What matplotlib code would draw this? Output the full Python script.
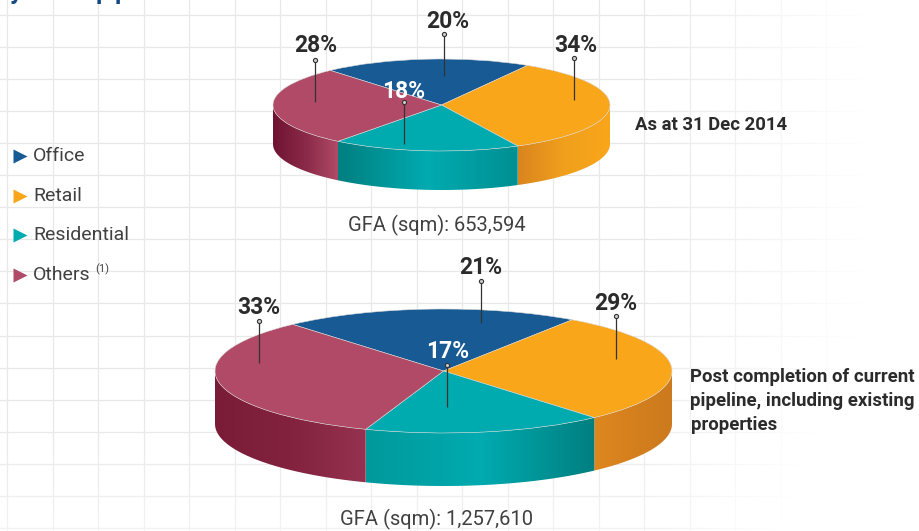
import numpy as np
import matplotlib
matplotlib.use('Agg')
import matplotlib.pyplot as plt
from matplotlib.patches import Polygon
from matplotlib.colors import LinearSegmentedColormap

plt.rcParams['font.family'] = ['Roboto', 'Liberation Sans', 'DejaVu Sans']

categories = ['Office', 'Retail', 'Residential', 'Others']
colors = ['#175a94', '#faa61a', '#00abb0', '#b04a66']
top_values = [20, 34, 18, 28]
bottom_values = [21, 29, 17, 33]
top_gfa = 'GFA (sqm): 653,594'
bottom_gfa = 'GFA (sqm): 1,257,610'
top_note = 'As at 31 Dec 2014'
bottom_note = 'Post completion of current\npipeline, including existing\nproperties'

W, H = 919, 531

# side wall shading, left to right, per slice
top_walls = {1: ['#d9851f', '#f0a01c', '#faa61a'],
             2: ['#007f80', '#00abb0', '#008f92'],
             3: ['#6f1232', '#8a2a48', '#b04a66']}
bottom_walls = {1: ['#dd871f', '#d5801e', '#cc7a1e'],
                2: ['#00999b', '#00abb0', '#007f80'],
                3: ['#7a1c38', '#82223e', '#953250']}

fig = plt.figure(figsize=(W / 100, H / 100), dpi=100)

# background grid
bg = fig.add_axes([0, 0, 1, 1], zorder=0)
bg.set_xlim(0, W)
bg.set_ylim(H, 0)
bg.axis('off')
for x in np.arange(7, 880, 45.5):
    bg.axvline(x, color='#e8e8e8', lw=0.9)
for y in np.arange(15, 531, 32.05):
    bg.axhline(y, color='#e8e8e8', lw=0.9)
# grid fades out to the right and bottom
xx, yy = np.meshgrid(np.arange(W), np.arange(H))
fade = np.clip((xx - (640 - np.clip(yy - 300, 0, None) * 0.4)) / 230, 0, 1)
fade = np.maximum(fade, np.clip((yy - 420) / 110, 0, 1) * 0.45)
rgba = np.ones((H, W, 4))
rgba[..., 3] = fade
bg.imshow(rgba, extent=[0, W, H, 0], aspect='auto', zorder=2)
bg.set_xlim(0, W)
bg.set_ylim(H, 0)


def draw_pie(values, walls, startangle, cx, cy, rx, ry, depth, z):
    d = depth / ry
    m = 1.02
    left = cx - rx * m
    right = cx + rx * m
    top = cy - ry * m
    bottom = cy + ry + depth + ry * (m - 1)
    ax = fig.add_axes([left / W, 1 - bottom / H, (right - left) / W, (bottom - top) / H], zorder=z)
    ax.patch.set_alpha(0)

    # walls of the slices that face the viewer
    edges = startangle - np.cumsum([0] + list(values)) * 3.6
    for i, stops in walls.items():
        a0 = max(edges[i + 1], -180)
        a1 = min(edges[i], 0)
        theta = np.radians(np.linspace(a0, a1, 100))
        xs = np.cos(theta)
        ys = np.sin(theta)
        pts = np.r_[np.c_[xs, ys], np.c_[xs[::-1], ys[::-1] - d]]
        poly = Polygon(pts, closed=True, transform=ax.transData, fc='none', ec='none')
        ax.add_patch(poly)
        cmap = LinearSegmentedColormap.from_list('wall', stops)
        im = ax.imshow(np.linspace(0, 1, 256)[None, :], cmap=cmap, aspect='auto',
                       extent=[xs.min(), xs.max(), -1 - d, 1], zorder=1, interpolation='bilinear')
        im.set_clip_path(poly)

    wedges, _ = ax.pie(values, colors=colors, startangle=startangle, counterclock=False, radius=1,
                       wedgeprops={'edgecolor': '#d8d8d8', 'linewidth': 0.4, 'zorder': 3})
    ax.set_aspect('auto')
    ax.set_xlim(-m, m)
    ax.set_ylim(-1 - d - (m - 1), m)
    ax.axis('off')
    return ax


draw_pie(top_values, top_walls, 131.3, 441.5, 105, 168.5, 46, 39, 2)
draw_pie(bottom_values, bottom_walls, 131.3, 443.5, 371, 228.5, 62, 53, 3)

# labels, leader lines, legend
fg = fig.add_axes([0, 0, 1, 1], zorder=5)
fg.patch.set_alpha(0)
fg.set_xlim(0, W)
fg.set_ylim(H, 0)
fg.axis('off')

dark = '#2b2b2b'
grey = '#404040'

leaders = [(444, 34, 76), (574, 58, 100), (315, 60, 102), (404, 102, 144),
           (481, 281, 323), (615.5, 316, 358.5), (258.5, 320.5, 362.5), (446.7, 365, 407)]
for x, y0, y1 in leaders:
    fg.plot([x, x], [y0, y1], color='#333333', lw=0.9, solid_capstyle='butt')
    fg.plot([x], [y0], 'o', ms=3, mfc='#cccccc', mec='#333333', mew=0.8)

pct_pos = [(448, 22), (576, 45), (404, 91), (316, 46)]
for v, (x, y), c in zip(top_values, pct_pos, [dark, dark, 'white', dark]):
    fg.text(x, y, f'{v}%', ha='center', va='center', fontsize=16.5, fontweight='bold', color=c)
pct_pos = [(481, 268), (616, 303), (448, 352), (259, 307)]
for v, (x, y), c in zip(bottom_values, pct_pos, [dark, dark, 'white', dark]):
    fg.text(x, y, f'{v}%', ha='center', va='center', fontsize=16.5, fontweight='bold', color=c)

fg.text(437, 225, top_gfa, ha='center', va='center', fontsize=14.5, color=grey)
fg.text(437, 519, bottom_gfa, ha='center', va='center', fontsize=14.5, color=grey)
fg.text(635, 125, top_note, ha='left', va='center', fontsize=13.3, fontweight='bold', color=dark)
fg.text(690.5, 401, bottom_note, ha='left', va='center', fontsize=13.4, fontweight='bold',
        color=dark, linespacing=1.44)

legend_y = [156, 195.5, 235, 275]
text_y = [156, 196, 235, 275]
for name, c, my, ty in zip(categories, colors, legend_y, text_y):
    fg.plot([20], [my], '>', ms=10.5, color=c, mec='none')
    fg.text(33, ty, name, ha='left', va='center', fontsize=14, color=grey)
fg.text(95, 269, '(1)', ha='left', va='center', fontsize=8, color=grey)

# bottoms of the cropped heading above the chart
for x, s in [(16, 'y'), (102.5, 'p'), (122, 'p')]:
    fg.text(x, -8, s, ha='center', va='center', fontsize=18, fontweight='bold', color='#174a85',
            clip_on=True)

fig.savefig('out.png', dpi=100)
